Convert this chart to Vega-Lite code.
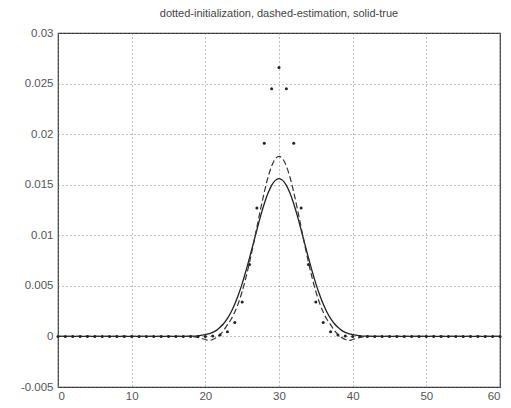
{
  "$schema": "https://vega.github.io/schema/vega-lite/v6.json",
  "width": 442,
  "height": 354,
  "autosize": {"type": "none"},
  "padding": {"left": 58, "top": 33, "right": 11, "bottom": 21},
  "background": "white",
  "title": {"text": "dotted-initialization, dashed-estimation, solid-true", "fontSize": 11, "font": "Liberation Sans", "fontWeight": "normal", "color": "#444", "offset": 8, "anchor": "middle"},
  "config": {
    "view": {"stroke": "#333", "strokeWidth": 1.2},
    "axis": {"labelFont": "Liberation Sans", "labelFontSize": 11.5, "labelColor": "#555", "ticks": false, "domain": false, "grid": true, "gridColor": "#777", "gridDash": [1, 3], "gridOpacity": 0.9, "title": null}
  },
  "datasets": {
    "solid": [
      {"x": 0, "y": 0}, {"x": 10, "y": 0}, {"x": 17, "y": 0}, {"x": 18, "y": 0.00002}, {"x": 19, "y": 0.00006}, {"x": 20, "y": 0.00017}, {"x": 21, "y": 0.0004}, {"x": 21.5, "y": 0.0006}, {"x": 22, "y": 0.0009}, {"x": 22.5, "y": 0.00128}, {"x": 23, "y": 0.00178}, {"x": 23.5, "y": 0.00242}, {"x": 24, "y": 0.0032}, {"x": 24.5, "y": 0.00414}, {"x": 25, "y": 0.00522}, {"x": 25.5, "y": 0.00644}, {"x": 26, "y": 0.00777}, {"x": 26.5, "y": 0.00915}, {"x": 27, "y": 0.01055}, {"x": 27.5, "y": 0.0119}, {"x": 28, "y": 0.01312}, {"x": 28.5, "y": 0.01415}, {"x": 29, "y": 0.01494}, {"x": 29.5, "y": 0.01543}, {"x": 30, "y": 0.0156},
      {"x": 30.5, "y": 0.01543}, {"x": 31, "y": 0.01494}, {"x": 31.5, "y": 0.01415}, {"x": 32, "y": 0.01312}, {"x": 32.5, "y": 0.0119}, {"x": 33, "y": 0.01055}, {"x": 33.5, "y": 0.00915}, {"x": 34, "y": 0.00777}, {"x": 34.5, "y": 0.00644}, {"x": 35, "y": 0.00522}, {"x": 35.5, "y": 0.00414}, {"x": 36, "y": 0.0032}, {"x": 36.5, "y": 0.00242}, {"x": 37, "y": 0.00178}, {"x": 37.5, "y": 0.00128}, {"x": 38, "y": 0.0009}, {"x": 38.5, "y": 0.0006}, {"x": 39, "y": 0.0004}, {"x": 40, "y": 0.00017}, {"x": 41, "y": 0.00006}, {"x": 42, "y": 0.00002}, {"x": 43, "y": 0}, {"x": 50, "y": 0}, {"x": 60, "y": 0}
    ],
    "dashed": [
      {"x": 0, "y": 0}, {"x": 10, "y": 0}, {"x": 18, "y": 0}, {"x": 19, "y": -0.0001}, {"x": 19.5, "y": -0.0002}, {"x": 20, "y": -0.0003}, {"x": 20.5, "y": -0.0004}, {"x": 21, "y": -0.0003}, {"x": 21.5, "y": -0.0001}, {"x": 22, "y": 0.0002}, {"x": 22.5, "y": 0.0006}, {"x": 23, "y": 0.00117}, {"x": 23.5, "y": 0.0017}, {"x": 24, "y": 0.00241}, {"x": 24.5, "y": 0.00332}, {"x": 25, "y": 0.00444}, {"x": 25.5, "y": 0.00578}, {"x": 26, "y": 0.00732}, {"x": 26.5, "y": 0.00901}, {"x": 27, "y": 0.0108}, {"x": 27.5, "y": 0.01258}, {"x": 28, "y": 0.01425}, {"x": 28.5, "y": 0.01571}, {"x": 29, "y": 0.01684}, {"x": 29.5, "y": 0.01755}, {"x": 30, "y": 0.0178},
      {"x": 30.5, "y": 0.01755}, {"x": 31, "y": 0.01684}, {"x": 31.5, "y": 0.01571}, {"x": 32, "y": 0.01425}, {"x": 32.5, "y": 0.01258}, {"x": 33, "y": 0.0108}, {"x": 33.5, "y": 0.00901}, {"x": 34, "y": 0.00732}, {"x": 34.5, "y": 0.00578}, {"x": 35, "y": 0.00444}, {"x": 35.5, "y": 0.00332}, {"x": 36, "y": 0.00241}, {"x": 36.5, "y": 0.0017}, {"x": 37, "y": 0.00117}, {"x": 37.5, "y": 0.0006}, {"x": 38, "y": 0.0002}, {"x": 38.5, "y": -0.0001}, {"x": 39, "y": -0.0003}, {"x": 39.5, "y": -0.0004}, {"x": 40, "y": -0.0003}, {"x": 40.5, "y": -0.0002}, {"x": 41, "y": -0.0001}, {"x": 42, "y": 0}, {"x": 50, "y": 0}, {"x": 60, "y": 0}
    ],
    "dots": [
      {"x": 0, "y": 0}, {"x": 1, "y": 0}, {"x": 2, "y": 0}, {"x": 3, "y": 0}, {"x": 4, "y": 0}, {"x": 5, "y": 0}, {"x": 6, "y": 0}, {"x": 7, "y": 0}, {"x": 8, "y": 0}, {"x": 9, "y": 0}, {"x": 10, "y": 0}, {"x": 11, "y": 0}, {"x": 12, "y": 0}, {"x": 13, "y": 0}, {"x": 14, "y": 0}, {"x": 15, "y": 0}, {"x": 16, "y": 0}, {"x": 17, "y": 0}, {"x": 18, "y": 0}, {"x": 19, "y": 0}, {"x": 20, "y": 0}, {"x": 21, "y": 0.00004}, {"x": 22, "y": 0.00014}, {"x": 23, "y": 0.00047}, {"x": 24, "y": 0.00138}, {"x": 25, "y": 0.0034}, {"x": 26, "y": 0.0071}, {"x": 27, "y": 0.0127}, {"x": 28, "y": 0.0191}, {"x": 29, "y": 0.0245}, {"x": 30, "y": 0.0266}, {"x": 31, "y": 0.0245}, {"x": 32, "y": 0.0191}, {"x": 33, "y": 0.0127}, {"x": 34, "y": 0.0071}, {"x": 35, "y": 0.0034}, {"x": 36, "y": 0.00138}, {"x": 37, "y": 0.00047}, {"x": 38, "y": 0.00014}, {"x": 39, "y": 0.00004}, {"x": 40, "y": 0}, {"x": 41, "y": 0}, {"x": 42, "y": 0}, {"x": 43, "y": 0}, {"x": 44, "y": 0}, {"x": 45, "y": 0}, {"x": 46, "y": 0}, {"x": 47, "y": 0}, {"x": 48, "y": 0}, {"x": 49, "y": 0}, {"x": 50, "y": 0}, {"x": 51, "y": 0}, {"x": 52, "y": 0}, {"x": 53, "y": 0}, {"x": 54, "y": 0}, {"x": 55, "y": 0}, {"x": 56, "y": 0}, {"x": 57, "y": 0}, {"x": 58, "y": 0}, {"x": 59, "y": 0}, {"x": 60, "y": 0}
    ]
  },
  "encoding": {
    "x": {"field": "x", "type": "quantitative", "scale": {"domain": [0, 60], "nice": false, "zero": false}, "axis": {"values": [0, 10, 20, 30, 40, 50, 60], "labelPadding": 3}},
    "y": {"field": "y", "type": "quantitative", "scale": {"domain": [-0.005, 0.03], "nice": false, "zero": false}, "axis": {"values": [-0.005, 0, 0.005, 0.01, 0.015, 0.02, 0.025, 0.03], "labelPadding": 5, "labelExpr": "datum.value < 0 ? '-0.005' : format(datum.value, '~g')"}}
  },
  "layer": [
    {"data": {"name": "solid"}, "mark": {"type": "line", "color": "#222", "strokeWidth": 1.3, "interpolate": "monotone"}},
    {"data": {"name": "dashed"}, "mark": {"type": "line", "color": "#333", "strokeWidth": 1.2, "strokeDash": [6, 3], "interpolate": "monotone"}},
    {"data": {"name": "dots"}, "mark": {"type": "circle", "color": "#222", "size": 9, "opacity": 1}}
  ]
}
